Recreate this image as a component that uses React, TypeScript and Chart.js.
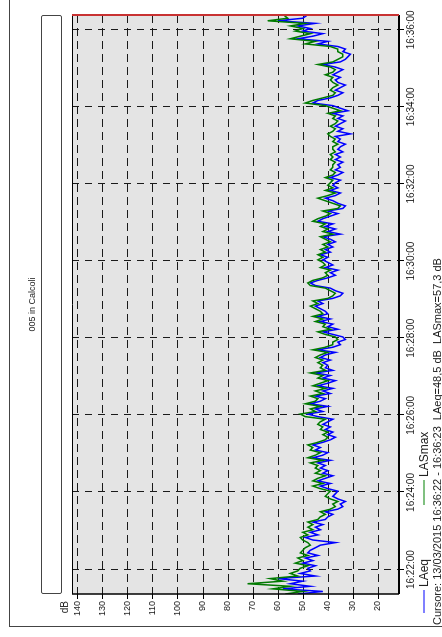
import { useEffect, useRef } from "react";
import { Chart, registerables } from "chart.js";

Chart.register(...registerables);

const TITLE = "005 in Calcoli";
const SERIES_NAMES = ["LAeq", "LASmax"];
const START_TIME = "16:21:22";
const STEP_SECONDS = 4;
const AXIS_MIN_TIME = "16:21:22";
const AXIS_MAX_TIME = "16:36:23";
const TIME_TICK_LABELS = ["16:22:00", "16:24:00", "16:26:00", "16:28:00", "16:30:00", "16:32:00", "16:34:00", "16:36:00"];
const DB_TICKS = [20, 30, 40, 50, 60, 70, 80, 90, 100, 110, 120, 130, 140];
const DB_MIN = 11.6;
const DB_MAX = 142.1;
const CURSOR_TEXT = "Cursore: 13/03/2015 16:36:22 - 16:36:23  LAeq=48,5 dB  LASmax=57,3 dB";

const LAEQ = [
  52, 42, 58, 47, 55, 50, 60, 45, 51, 47,
  48, 45, 50, 46, 49, 44, 48, 47, 45, 43,
  37, 46, 49, 44, 47, 43, 45, 42, 46, 41,
  40, 38, 41, 36, 34, 35, 33, 36, 38, 37,
  36, 40, 43, 39, 44, 41, 38, 42, 40, 43,
  41, 44, 39, 46, 42, 40, 45, 43, 46, 42,
  39, 37, 40, 38, 41, 39, 42, 40, 38, 44,
  48, 42, 45, 40, 47, 43, 41, 45, 39, 42,
  38, 44, 40, 37, 42, 39, 45, 38, 41, 40,
  42, 39, 43, 41, 37, 44, 38, 35, 36, 33,
  34, 38, 42, 36, 40, 38, 43, 39, 44, 40,
  41, 43, 45, 42, 44, 38, 35, 34, 37, 39,
  45, 47, 44, 40, 37, 39, 36, 41, 38, 40,
  42, 40, 43, 39, 41, 38, 40, 37, 39, 42,
  35, 40, 37, 41, 38, 44, 42, 39, 36, 40,
  34, 33, 36, 38, 41, 37, 35, 39, 36, 38,
  37, 35, 39, 36, 34, 37, 35, 36, 34, 37,
  35, 37, 34, 36, 35, 33, 36, 35, 37, 31,
  36, 34, 37, 35, 33, 36, 34, 38, 32, 35,
  38, 46, 44, 39, 36, 34, 37, 35, 33, 36,
  37, 35, 38, 36, 34, 37, 42, 35, 33, 32,
  31, 34, 33, 36, 44, 40, 52, 46, 42, 50,
  47, 52, 45, 60, 50, 48.5,
];

const LASMAX = [
  57, 50, 62, 55, 72, 58, 63, 52, 55, 52,
  51, 48, 53, 50, 52, 48, 51, 50, 49, 47,
  48, 50, 51, 48, 50, 46, 48, 46, 48, 44,
  43, 41, 43, 39, 37, 38, 36, 39, 41, 40,
  39, 43, 46, 42, 46, 44, 41, 45, 43, 45,
  44, 47, 42, 48, 45, 43, 47, 46, 48, 44,
  41, 40, 42, 40, 43, 42, 44, 43, 41, 49,
  51, 45, 47, 43, 49, 45, 44, 47, 42, 45,
  41, 46, 43, 40, 44, 42, 47, 41, 43, 42,
  44, 42, 45, 43, 40, 46, 41, 38, 38, 36,
  37, 41, 44, 39, 42, 41, 45, 42, 46, 42,
  43, 45, 47, 44, 46, 40, 38, 37, 39, 41,
  47, 48, 46, 42, 40, 41, 39, 43, 41, 42,
  44, 42, 44, 41, 43, 40, 42, 39, 41, 43,
  38, 42, 40, 43, 41, 46, 44, 41, 39, 42,
  36, 35, 38, 41, 44, 40, 37, 41, 38, 40,
  39, 38, 41, 38, 37, 39, 38, 38, 37, 39,
  38, 39, 37, 38, 38, 36, 38, 37, 39, 40,
  38, 37, 39, 37, 36, 38, 37, 40, 35, 38,
  41, 49, 46, 42, 38, 37, 39, 38, 36, 38,
  39, 38, 41, 38, 37, 39, 44, 38, 36, 34,
  34, 36, 36, 39, 49, 45, 55, 51, 47, 53,
  50, 55, 49, 64, 56, 57.3,
];

const toSec = (s: string) => {
  const [h, m, sec] = s.split(":").map(Number);
  return h * 3600 + m * 60 + sec;
};
const fmt = (v: number) => {
  const h = Math.floor(v / 3600);
  const m = Math.floor((v % 3600) / 60);
  const s = Math.round(v % 60);
  const p = (n: number) => String(n).padStart(2, "0");
  return `${p(h)}:${p(m)}:${p(s)}`;
};

const FONT = '"Liberation Sans", Arial, Helvetica, sans-serif';
const TIME_TICK_VALUES = TIME_TICK_LABELS.map(toSec);

const framePlugin = {
  id: "framePlugin",
  beforeDatasetsDraw(chart: any) {
    const { ctx, chartArea: a, scales } = chart;
    ctx.save();
    ctx.fillStyle = "#e4e4e4";
    ctx.fillRect(a.left, a.top, a.right - a.left, a.bottom - a.top);
    ctx.strokeStyle = "#1a1a1a";
    ctx.lineWidth = 1;
    ctx.setLineDash([8, 5]);
    for (const v of DB_TICKS) {
      const y = Math.round(scales.y.getPixelForValue(v)) + 0.5;
      ctx.beginPath();
      ctx.moveTo(a.right, y);
      ctx.lineTo(a.left, y);
      ctx.stroke();
    }
    ctx.setLineDash([7, 6]);
    for (const t of TIME_TICK_VALUES) {
      const x = Math.round(scales.x.getPixelForValue(t)) + 0.5;
      ctx.beginPath();
      ctx.moveTo(x, a.top);
      ctx.lineTo(x, a.bottom);
      ctx.stroke();
    }
    ctx.restore();
  },
  afterDatasetsDraw(chart: any) {
    const { ctx, chartArea: a, scales } = chart;
    ctx.save();
    ctx.setLineDash([]);
    ctx.strokeStyle = "#000";
    // tick marks
    ctx.lineWidth = 1;
    for (const v of DB_TICKS) {
      const y = Math.round(scales.y.getPixelForValue(v)) + 0.5;
      ctx.beginPath();
      ctx.moveTo(a.left - 5, y);
      ctx.lineTo(a.left, y);
      ctx.stroke();
    }
    for (const t of TIME_TICK_VALUES) {
      const x = Math.round(scales.x.getPixelForValue(t)) + 0.5;
      ctx.beginPath();
      ctx.moveTo(x, a.bottom);
      ctx.lineTo(x, a.bottom + 5);
      ctx.stroke();
    }
    // borders
    ctx.lineWidth = 1;
    ctx.beginPath();
    ctx.moveTo(a.left, a.top + 0.5);
    ctx.lineTo(a.right, a.top + 0.5);
    ctx.stroke();
    ctx.lineWidth = 2;
    ctx.beginPath();
    ctx.moveTo(a.left, a.bottom);
    ctx.lineTo(a.right, a.bottom);
    ctx.stroke();
    ctx.lineWidth = 1.5;
    ctx.beginPath();
    ctx.moveTo(a.left, a.top);
    ctx.lineTo(a.left, a.bottom);
    ctx.stroke();
    ctx.strokeStyle = "#c83232";
    ctx.lineWidth = 2;
    ctx.beginPath();
    ctx.moveTo(a.right, a.top);
    ctx.lineTo(a.right, a.bottom);
    ctx.stroke();
    ctx.restore();
  },
};

export default function App() {
  const ref = useRef<HTMLCanvasElement>(null);

  useEffect(() => {
    if (!ref.current) return;
    const start = toSec(START_TIME);
    const toPts = (arr: number[]) => arr.map((v, i) => ({ x: start + i * STEP_SECONDS, y: v }));
    const chart = new Chart(ref.current, {
      type: "line",
      data: {
        datasets: [
          {
            label: SERIES_NAMES[0],
            data: toPts(LAEQ),
            borderColor: "#0000ff",
            borderWidth: 1.5,
            pointRadius: 0,
            tension: 0,
            order: 1,
          },
          {
            label: SERIES_NAMES[1],
            data: toPts(LASMAX),
            borderColor: "#007a00",
            borderWidth: 1.5,
            pointRadius: 0,
            tension: 0,
            order: 0,
          },
        ],
      },
      options: {
        animation: false,
        responsive: false,
        devicePixelRatio: 1,
        layout: { padding: { top: 10, right: 15, left: 0, bottom: 0 } },
        plugins: { legend: { display: false }, tooltip: { enabled: false } },
        scales: {
          x: {
            type: "linear",
            min: toSec(AXIS_MIN_TIME),
            max: toSec(AXIS_MAX_TIME),
            grid: { display: false, drawTicks: true, tickLength: 5 },
            border: { display: false },
            afterBuildTicks: (s: any) => {
              s.ticks = TIME_TICK_VALUES.map((value) => ({ value }));
            },
            afterFit: (s: any) => {
              s.height = 43;
            },
            ticks: {
              autoSkip: false,
              maxRotation: 0,
              minRotation: 0,
              padding: 1,
              color: "#222",
              font: { family: FONT, size: 10 },
              callback: (v: any) => fmt(Number(v)),
            },
          },
          y: {
            type: "linear",
            min: DB_MIN,
            max: DB_MAX,
            grid: { display: false, drawTicks: true, tickLength: 5 },
            border: { display: false },
            afterBuildTicks: (s: any) => {
              s.ticks = DB_TICKS.map((value) => ({ value }));
            },
            afterFit: (s: any) => {
              s.width = 43;
            },
            ticks: {
              autoSkip: false,
              padding: 2,
              color: "#222",
              font: { family: FONT, size: 9 },
              callback: (v: any) => String(v),
            },
          },
        },
      },
      plugins: [framePlugin],
    });
    return () => chart.destroy();
  }, []);

  return (
    <div
      style={{
        position: "fixed",
        left: 0,
        top: 0,
        width: 637,
        height: 442,
        overflow: "hidden",
        background: "#fff",
        transformOrigin: "0 0",
        transform: "translate(0px, 637px) rotate(-90deg)",
        fontFamily: FONT,
        color: "#222",
      }}
    >
      <div
        style={{
          position: "absolute",
          left: 10,
          top: 9,
          width: 700,
          height: 500,
          borderLeft: "1px solid #444",
          borderTop: "1px solid #444",
        }}
      />
      <div
        style={{
          position: "absolute",
          left: 43,
          top: 27,
          width: 579,
          textAlign: "center",
          fontSize: 9,
          lineHeight: "11px",
          whiteSpace: "nowrap",
        }}
      >
        {TITLE}
      </div>
      <div
        style={{
          position: "absolute",
          left: 43,
          top: 41,
          width: 579,
          height: 21,
          boxSizing: "border-box",
          border: "1px solid #444",
          borderRadius: 2,
          background: "#fff",
        }}
      />
      <canvas
        ref={ref}
        width={637}
        height={380}
        style={{ position: "absolute", left: 0, top: 62, width: 637, height: 380 }}
      />
      <div
        style={{
          position: "absolute",
          left: 0,
          top: 59,
          width: 36,
          textAlign: "right",
          fontSize: 10,
          lineHeight: "12px",
        }}
      >
        dB
      </div>
      <div style={{ position: "absolute", left: 24, top: 423, width: 23, height: 2, background: "#8080ff" }} />
      <div style={{ position: "absolute", left: 50, top: 417, fontSize: 12, lineHeight: "14px", whiteSpace: "nowrap" }}>
        {SERIES_NAMES[0]}
      </div>
      <div style={{ position: "absolute", left: 132, top: 423, width: 25, height: 2, background: "#80c080" }} />
      <div style={{ position: "absolute", left: 160, top: 417, fontSize: 12, lineHeight: "14px", whiteSpace: "nowrap" }}>
        {SERIES_NAMES[1]}
      </div>
      <div
        style={{
          position: "absolute",
          left: 12,
          top: 431,
          fontSize: 11,
          lineHeight: "12px",
          whiteSpace: "pre",
        }}
      >
        {CURSOR_TEXT}
      </div>
    </div>
  );
}
